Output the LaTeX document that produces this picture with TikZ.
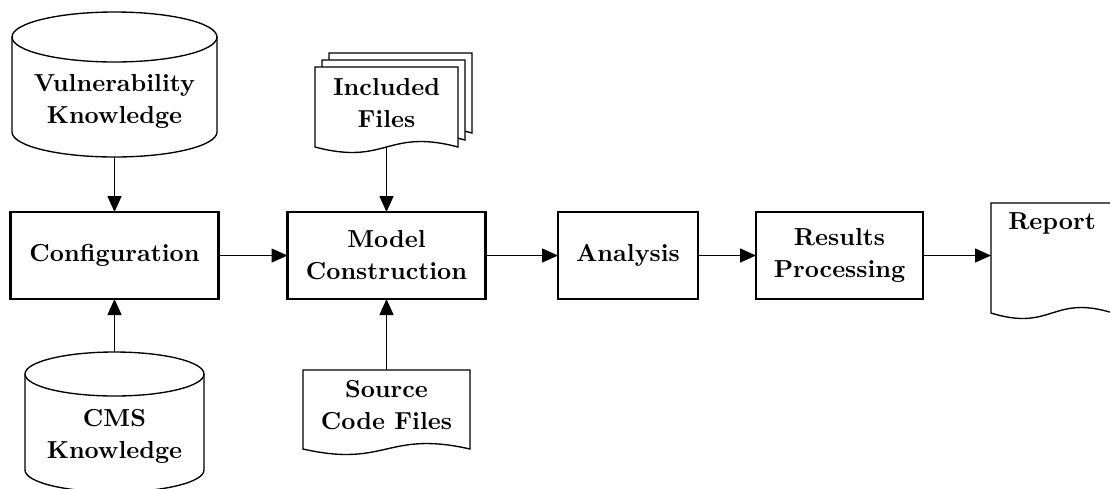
\documentclass[tikz,border=0pt]{standalone}
\usetikzlibrary{arrows.meta}

% one drawing unit
\newcommand\pxu{0.4065pt}

% upright database cylinder: centre x, x radius, y radius, top-cap centre y, bottom-cap centre y
\newcommand\cylshape[5]{%
  \draw[fill=white] ({#1-#2},#4) -- ({#1-#2},#5) arc (180:0:#2 and #3) -- ({#1+#2},#4);
  \draw (#1,#4) ellipse (#2 and #3);}

% document with a wavy bottom edge: left x, right x, top y, wave baseline y
\newcommand\docshape[4]{%
  \draw[fill=white] (#1,#3) -- (#2,#3) -- (#2,#4)
    .. controls ({(#1+#2)/2},{#4-19}) and ({(#1+#2)/2},{#4+19}) .. (#1,#4) -- cycle;}

\begin{document}
\begin{tikzpicture}[x=0.4065pt, y=-0.4065pt,
  line width=0.55pt,
  font=\fontsize{10}{13}\selectfont\bfseries,
  every node/.style={inner sep=0pt, outer sep=0pt},
  frame/.style 2 args={minimum width={#1*\pxu}, minimum height={#2*\pxu}},
  stage/.style={draw, line width=1.2pt, align=center, minimum width={#1*\pxu}, minimum height={87*\pxu}},
  label/.style={align=center},
  arr/.style={-{Triangle[length=6.5pt, width=5.7pt]}}]

\clip (0,0) rectangle (1110,488);

% outlines of the stores and documents
\cylshape{114.5}{102.5}{25}{37}{132}
\cylshape{114.5}{89.5}{22}{374}{470}
\docshape{329}{472}{53}{133}
\docshape{322}{465}{60}{140}
\docshape{315}{458}{67}{147}
\docshape{303}{470}{370}{449}
\docshape{991}{1113}{203}{313}

% frames spanning each store / document
\node[frame={205}{145}] (vk)  at (114.5,84.5) {};
\node[frame={179}{140}] (cms) at (114.5,422) {};
\node[frame={143}{80}]  (inc) at (386.5,107) {};
\node[frame={167}{79}]  (src) at (386.5,409.5) {};
\node[frame={122}{110}] (rep) at (1052,258) {};

% their texts
\node[label] (vkt)  at (114.5,101) {Vulnerability\\Knowledge};
\node[label] (cmst) at (114.5,436) {CMS\\Knowledge};
\node[label] (inct) at (386.5,103) {Included\\Files};
\node[label] (srct) at (386.5,405) {Source\\Code Files};
\node[label] (rept) at (1052,223) {Report};

% processing stages
\node[stage=208] (conf)  at (114.5,255.5) {Configuration};
\node[stage=198] (model) at (386.5,255.5) {Model\\Construction};
\node[stage=140] (ana)   at (628,255.5)   {Analysis};
\node[stage=167] (res)   at (839.5,255.5) {Results\\Processing};

% flow
\draw[arr] (vk.south) -- (conf.north);
\draw[arr] (cms.north) -- (conf.south);
\draw[arr] (inc.south) -- (model.north);
\draw[arr] (src.north) -- (model.south);
\draw[arr] (conf) -- (model);
\draw[arr] (model) -- (ana);
\draw[arr] (ana) -- (res);
\draw[arr] (res.east) -- (res.east -| rep.west);
\end{tikzpicture}
\end{document}
